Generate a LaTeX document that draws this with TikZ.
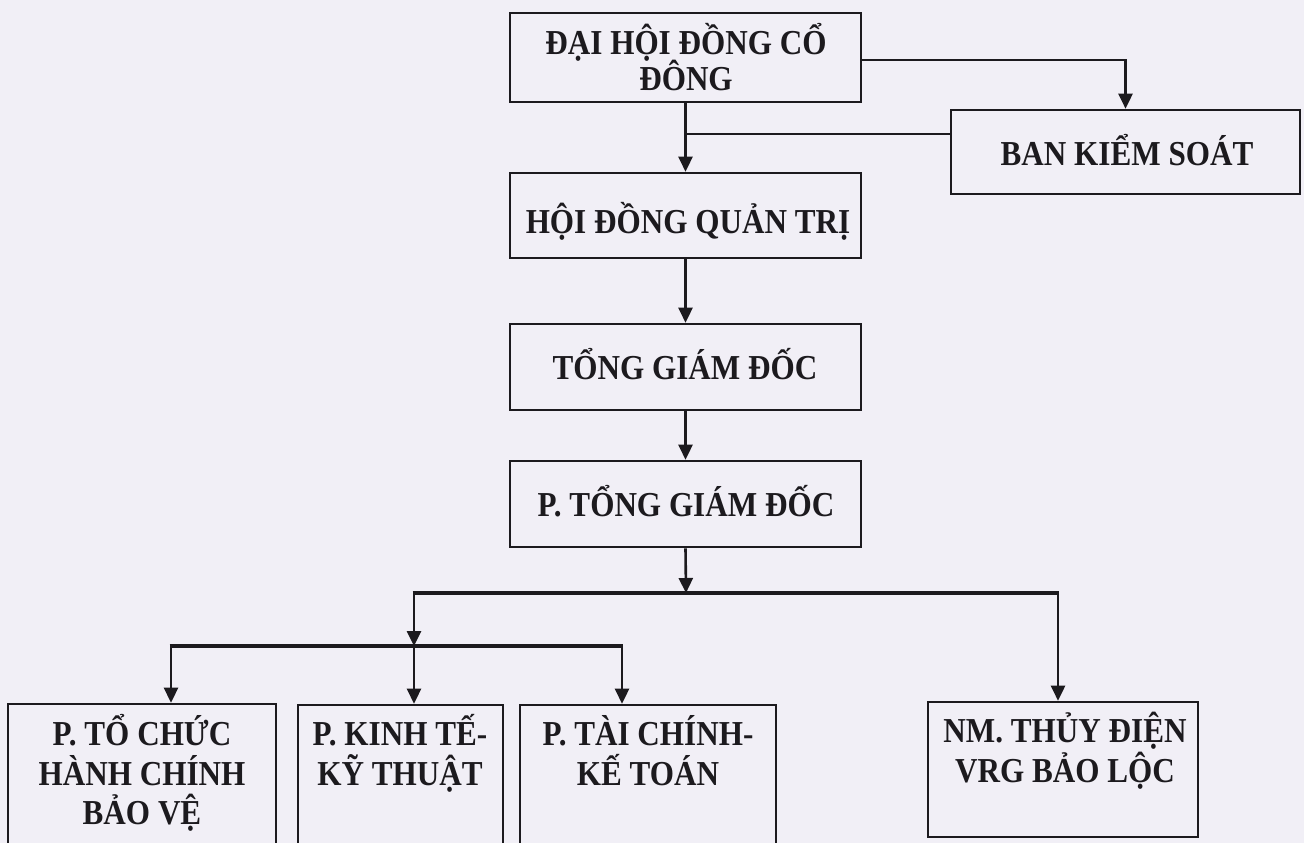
\documentclass[tikz,border=0pt]{standalone}
\usepackage{fontspec}
\setmainfont[FakeStretch=0.89]{Liberation Serif}
\usetikzlibrary{arrows.meta}
\definecolor{paper}{RGB}{241,239,246}
\definecolor{ink}{RGB}{28,26,30}
\tikzset{
  x=1pt, y=-1pt,
  boxnode/.style={draw=ink, line width=2.6pt, rectangle, inner sep=0pt, fill=none},
  lbl/.style={inner sep=0pt, anchor=base, text=ink, font=\bfseries\fontsize{35}{40}\selectfont},
  conn/.style={draw=ink, line width=2.6pt},
  bar/.style={draw=ink, line width=3.8pt},
  tip/.style={-{Triangle[length=15pt,width=14pt]}},
}
\begin{document}
\begin{tikzpicture}
\useasboundingbox (0,0) rectangle (1304,843);
\fill[paper] (0,0) rectangle (1304,843);
\clip (0,0) rectangle (1304,843);

% boxes
\node[boxnode, minimum width=351pt, minimum height=89pt] (dh) at (685.5,57.5) {};
\node[boxnode, minimum width=349pt, minimum height=84pt] (bks) at (1125.5,152) {};
\node[boxnode, minimum width=351pt, minimum height=85pt] (hdqt) at (685.5,215.5) {};
\node[boxnode, minimum width=351pt, minimum height=86pt] (tgd) at (685.5,367) {};
\node[boxnode, minimum width=351pt, minimum height=86pt] (ptgd) at (685.5,504) {};
\node[boxnode, minimum width=268pt, minimum height=170pt] (ptc) at (142,789) {};
\node[boxnode, minimum width=205pt, minimum height=170pt] (pkt) at (400.5,790) {};
\node[boxnode, minimum width=256pt, minimum height=170pt] (pcke) at (648,790) {};
\node[boxnode, minimum width=270pt, minimum height=135pt] (nm) at (1063,769.5) {};

% labels
\node[lbl] (dhA) at (686,55) {ĐẠI HỘI ĐỒNG CỔ};
\node[lbl] (dhB) at (686,91) {ĐÔNG};
\node[lbl] (bksA) at (1127,165) {BAN KIỂM SOÁT};
\node[lbl] (hdqtA) at (688,233) {HỘI ĐỒNG QUẢN TRỊ};
\node[lbl] (tgdA) at (685,379) {TỔNG GIÁM ĐỐC};
\node[lbl] (ptgdA) at (686,516) {P. TỔNG GIÁM ĐỐC};
\node[lbl] (ptcA) at (142,745) {P. TỔ CHỨC};
\node[lbl] (ptcB) at (142,785) {HÀNH CHÍNH};
\node[lbl] (ptcC) at (142,824) {BẢO VỆ};
\node[lbl] (pktA) at (400,745) {P. KINH TẾ-};
\node[lbl] (pktB) at (400,785) {KỸ THUẬT};
\node[lbl] (pckeA) at (648,745) {P. TÀI CHÍNH-};
\node[lbl] (pckeB) at (648,785) {KẾ TOÁN};
\node[lbl] (nmA) at (1065,742) {NM. THỦY ĐIỆN};
\node[lbl] (nmB) at (1065,782) {VRG BẢO LỘC};

% junction coordinates
\coordinate (j1) at (686,593);
\coordinate (b1l) at (414,593);
\coordinate (b1r) at (1058,593);
\coordinate (j2) at (414,646);
\coordinate (b2l) at (171,646);
\coordinate (b2r) at (622,646);

% connectors
\draw[conn, tip] ([yshift=-2.5pt]dh.east) -| (bks.north);
\draw[conn, tip] (dh.south) -- (hdqt.north);
\draw[conn] ([yshift=18pt]bks.west) -- ([yshift=18pt]bks.west -| dh.south);
\draw[conn, tip] (hdqt.south) -- (tgd.north);
\draw[conn, tip] (tgd.south) -- (ptgd.north);
\draw[bar] ([xshift=-1.3pt]b1l) -- ([xshift=1.3pt]b1r);
\draw[conn, tip] (ptgd.south) -- (j1);
\draw[bar] ([xshift=-1.3pt]b2l) -- ([xshift=1.3pt]b2r);
\draw[conn, tip] (b1l) -- (j2);
\draw[conn, tip] (b2l) -- (b2l |- ptc.north);
\draw[conn, tip] (j2) -- (j2 |- pkt.north);
\draw[conn, tip] (b2r) -- (b2r |- pcke.north);
\draw[conn, tip] (b1r) -- (b1r |- nm.north);
\end{tikzpicture}
\end{document}
